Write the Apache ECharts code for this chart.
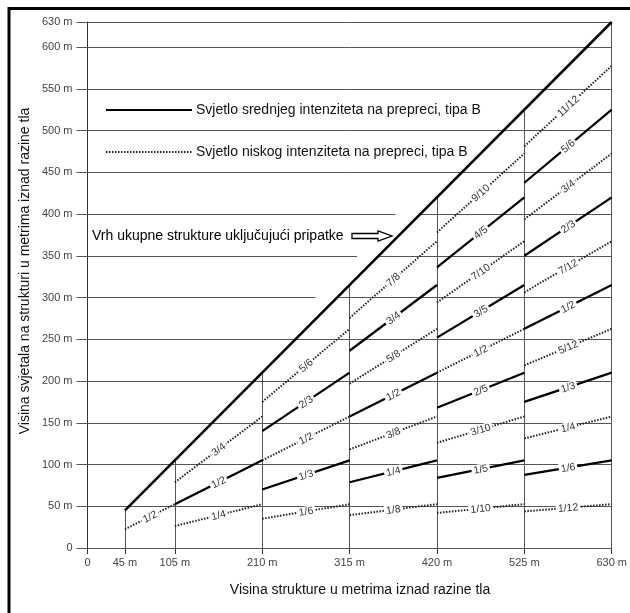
<!DOCTYPE html>
<html><head><meta charset="utf-8">
<script src="https://cdn.jsdelivr.net/npm/echarts@6/dist/echarts.min.js"></script>
<style>html,body{margin:0;padding:0;background:#fff}#c{width:630px;height:613px}</style>
</head><body><div id="c"></div>
<script>
// ---- data ----
const xTicks = [0, 45, 105, 210, 315, 420, 525, 630];
const yTicks = [0, 50, 100, 150, 200, 250, 300, 350, 400, 450, 500, 550, 600, 630];
const bandStart = [45, 105, 210, 315, 420, 525];
const bandEnd = [105, 210, 315, 420, 525, 630];
const mediumFractions = [
  [],
  ['1/2'],
  ['1/3', '2/3'],
  ['1/4', '1/2', '3/4'],
  ['1/5', '2/5', '3/5', '4/5'],
  ['1/6', '1/3', '1/2', '2/3', '5/6']
];
const lowFractions = [
  ['1/2'],
  ['1/4', '3/4'],
  ['1/6', '1/2', '5/6'],
  ['1/8', '3/8', '5/8', '7/8'],
  ['1/10', '3/10', '1/2', '7/10', '9/10'],
  ['1/12', '1/4', '5/12', '7/12', '3/4', '11/12']
];
const structureTopStart = [45, 45];
const structureTopEnd = [630, 630];
const gapLevels = [300, 350, 400];
const gapLeftEnd = [274, 324, 370];
const legendNames = ['Svjetlo srednjeg intenziteta na prepreci, tipa B', 'Svjetlo niskog intenziteta na prepreci, tipa B'];
const annotationText = 'Vrh ukupne strukture uključujući pripatke';
const xName = 'Visina strukture u metrima iznad razine tla';
const yName = 'Visina svjetala na strukturi u metrima iznad razine tla';

// ---- build ----
const FONT = '"Liberation Sans", Arial, sans-serif';
const NARROW = '"Liberation Sans Narrow", "Liberation Sans", Arial, sans-serif';
function fracVal(s) { const p = s.split('/'); return +p[0] / +p[1]; }
function segments(list) {
  const out = [];
  list.forEach((fr, i) => fr.forEach(f => {
    const v = fracVal(f);
    out.push([{ name: f, coord: [bandStart[i], v * bandStart[i]] }, { coord: [bandEnd[i], v * bandEnd[i]] }]);
  }));
  return out;
}
const gridData = [];
yTicks.forEach(v => {
  const gi = gapLevels.indexOf(v);
  if (gi >= 0) {
    gridData.push([{ coord: [0, v] }, { coord: [gapLeftEnd[gi], v] }]);
    gridData.push([{ coord: [v, v] }, { coord: [630, v] }]);
  } else {
    gridData.push([{ coord: [0, v] }, { coord: [630, v] }]);
  }
});
xTicks.filter(x => x > 0).forEach(x => gridData.push([{ coord: [x, 0] }, { coord: [x, x] }]));

const segLabel = {
  show: true, position: 'middle', distance: [0, -6], formatter: '{b}', fontSize: 10.5, color: '#333',
  fontFamily: NARROW, backgroundColor: '#fff', padding: [0, 2]
};

const chart = echarts.init(document.getElementById('c'), null, { renderer: 'canvas' });
chart.setOption({
  animation: false,
  backgroundColor: '#fff',
  grid: { left: 87.5, right: 18, top: 22, bottom: 65 },
  xAxis: {
    type: 'value', min: 0, max: 630,
    axisLine: { show: true, lineStyle: { color: '#333', width: 1 } },
    axisTick: { show: true, customValues: xTicks, length: 6, lineStyle: { color: '#333' } },
    axisLabel: { customValues: xTicks, formatter: v => v === 0 ? '0' : v + ' m', fontSize: 11, color: '#444', fontFamily: NARROW, margin: 9 },
    splitLine: { show: false }
  },
  yAxis: {
    type: 'value', min: 0, max: 630,
    axisLine: { show: true, lineStyle: { color: '#333', width: 1 } },
    axisTick: { show: true, customValues: yTicks, length: 11, lineStyle: { color: '#555' } },
    axisLabel: { customValues: yTicks, formatter: v => v === 0 ? '0' : v + ' m', fontSize: 11, color: '#444', fontFamily: NARROW, margin: 15 },
    splitLine: { show: false }
  },
  legend: {
    orient: 'vertical', left: 100, top: 98, itemWidth: 86, itemHeight: 12, itemGap: 28,
    data: legendNames, selectedMode: false,
    itemStyle: { opacity: 0 },
    textStyle: { fontSize: 14, color: '#111', fontFamily: FONT, padding: [0, 0, 0, -1] }
  },
  series: [
    {
      type: 'line', name: 'grid', data: [], silent: true, z: 1,
      markLine: { silent: true, symbol: ['none', 'none'], animation: false,
        lineStyle: { color: '#555', width: 1, type: 'solid' }, label: { show: false },
        emphasis: { disabled: true }, data: gridData }
    },
    {
      type: 'line', name: legendNames[0], data: [], symbol: 'none', z: 3,
      lineStyle: { color: '#000', width: 3, type: 'solid' },
      markLine: { silent: true, symbol: ['none', 'none'], animation: false,
        lineStyle: { color: '#000', width: 2.2, type: 'solid' }, label: segLabel,
        emphasis: { disabled: true }, data: segments(mediumFractions) }
    },
    {
      type: 'line', name: legendNames[1], data: [], symbol: 'none', z: 3,
      lineStyle: { color: '#222', width: 2, type: [1.5, 1.5] },
      markLine: { silent: true, symbol: ['none', 'none'], animation: false,
        lineStyle: { color: '#222', width: 2, type: [1.5, 1.5] }, label: segLabel,
        emphasis: { disabled: true }, data: segments(lowFractions) }
    },
    {
      type: 'line', name: 'top', data: [], z: 4, silent: true,
      markLine: { silent: true, symbol: ['none', 'none'], animation: false,
        lineStyle: { color: '#000', width: 2.5, type: 'solid' }, label: { show: false },
        emphasis: { disabled: true }, data: [[{ coord: structureTopStart }, { coord: structureTopEnd }]] }
    }
  ],
  graphic: [
    { type: 'line', shape: { x1: 8, y1: 8.5, x2: 630, y2: 8.5 }, style: { stroke: '#000', lineWidth: 3 } },
    { type: 'line', shape: { x1: 9, y1: 7, x2: 9, y2: 613 }, style: { stroke: '#000', lineWidth: 3 } },
    { type: 'text', x: 92, y: 236, z: 10, style: { text: annotationText, font: '14px ' + FONT, fill: '#000', align: 'left', verticalAlign: 'middle', textAlign: 'left', textVerticalAlign: 'middle' } },
    { type: 'polygon', z: 10, shape: { points: [[352, 233.5], [378, 233.5], [378, 231], [392, 236], [378, 241], [378, 238.5], [352, 238.5]] }, style: { fill: '#fff', stroke: '#000', lineWidth: 1.3 } },
    { type: 'text', x: 360, y: 590, z: 10, style: { text: xName, font: '14px ' + FONT, fill: '#111', align: 'center', verticalAlign: 'middle', textAlign: 'center', textVerticalAlign: 'middle' } },
    { type: 'text', x: 25, y: 271, rotation: Math.PI / 2, z: 10, style: { text: yName, font: '14px ' + FONT, fill: '#111', align: 'center', verticalAlign: 'middle', textAlign: 'center', textVerticalAlign: 'middle' } }
  ]
});
</script></body></html>
